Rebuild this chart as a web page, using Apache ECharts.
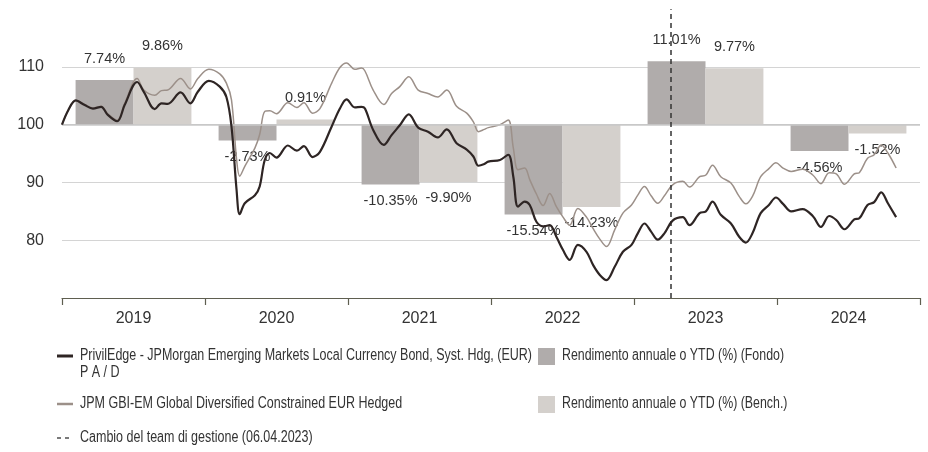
<!DOCTYPE html>
<html>
<head>
<meta charset="utf-8">
<script src="https://cdn.jsdelivr.net/npm/echarts@6/dist/echarts.min.js"></script>
<style>html,body{margin:0;padding:0;background:#fff;}#c{width:928px;height:452px;}</style>
</head>
<body>
<div id="c"></div>
<script>
const years = ['2019', '2020', '2021', '2022', '2023', '2024'];
const fundReturns = [7.74, -2.73, -10.35, -15.54, 11.01, -4.56];
const benchReturns = [9.86, 0.91, -9.90, -14.23, 9.77, -1.52];
const yTicks = [80, 90, 100, 110];

const dates = [
 '2019-01-01','2019-01-17','2019-02-05','2019-02-28','2019-03-21','2019-04-11','2019-04-28','2019-05-22','2019-06-10','2019-07-12',
 '2019-07-29','2019-08-26','2019-09-12','2019-09-28','2019-10-31','2019-11-25','2019-12-14','2020-01-11','2020-02-08','2020-02-25',
 '2020-03-09','2020-03-22','2020-03-30','2020-04-12','2020-05-08','2020-05-20','2020-06-02','2020-06-15','2020-07-02','2020-07-31',
 '2020-08-23','2020-09-10','2020-10-02','2020-10-21','2020-11-20','2020-12-11','2020-12-28','2021-01-18','2021-02-04','2021-02-13',
 '2021-03-06','2021-04-02','2021-04-22','2021-05-13','2021-06-05','2021-06-29','2021-07-24','2021-08-18','2021-09-10','2021-10-05',
 '2021-10-31','2021-11-17','2021-11-30','2021-12-15','2021-12-25','2022-01-24','2022-02-14','2022-02-27','2022-03-11','2022-03-28',
 '2022-04-10','2022-04-27','2022-05-14','2022-05-31','2022-06-17','2022-07-04','2022-07-21','2022-08-11','2022-09-02','2022-09-19',
 '2022-10-06','2022-10-23','2022-11-13','2022-12-04','2022-12-26','2023-01-11','2023-01-28','2023-02-14','2023-03-03','2023-03-20',
 '2023-04-10','2023-05-06','2023-05-23','2023-06-18','2023-07-04','2023-07-21','2023-08-11','2023-09-06','2023-09-27','2023-10-14',
 '2023-10-31','2023-11-21','2023-12-12','2023-12-30','2024-01-17','2024-02-07','2024-03-07','2024-04-02','2024-04-23','2024-05-14',
 '2024-06-01','2024-06-22','2024-07-17','2024-07-30','2024-08-20','2024-09-06','2024-09-24','2024-10-11','2024-11-01'
];
const fundValues = [
 100.0,102.5,104.2,103.4,102.8,103.1,101.7,100.6,103.4,107.4,
 105.7,102.7,103.7,103.6,105.6,103.7,105.7,107.6,106.6,104.8,
 99.7,88.7,84.5,86.4,87.8,89.3,93.9,95.1,94.3,96.4,
 95.5,96.3,94.4,95.3,99.7,102.8,104.4,103.0,103.1,102.8,
 99.1,96.5,98.2,99.9,101.8,99.5,98.8,97.8,99.2,96.8,
 95.7,94.5,92.9,93.2,93.6,93.9,94.8,91.0,85.8,86.7,
 86.1,83.2,82.4,82.6,80.6,78.3,76.6,79.2,78.0,75.7,
 74.0,73.1,75.4,78.0,79.2,81.2,82.9,81.5,80.1,81.2,
 83.4,84.0,82.6,84.7,85.0,86.7,84.4,82.9,80.6,79.6,
 81.2,84.7,86.1,87.4,86.3,85.0,85.4,84.2,82.3,84.2,
 83.5,81.9,83.6,83.8,86.1,86.6,88.3,86.4,84.0
];
const benchValues = [
 100.0,102.5,104.2,103.5,102.9,103.2,101.9,100.8,103.7,108.0,
 106.0,105.1,105.9,106.0,108.0,106.2,108.0,109.6,108.8,107.2,
 104.3,94.0,91.1,92.8,96.0,98.3,102.3,102.4,101.9,103.8,
 103.0,103.8,102.0,102.8,107.2,109.9,110.7,109.6,109.8,109.3,
 106.0,103.5,105.4,106.6,108.3,106.0,105.4,104.8,106.0,103.2,
 102.0,100.5,98.8,99.2,99.5,100.0,100.8,96.0,92.2,92.5,
 90.5,88.0,86.0,88.1,85.8,84.0,82.6,85.5,84.0,82.0,
 80.2,78.9,81.8,84.7,86.1,87.8,89.3,87.7,86.4,87.7,
 89.6,90.2,89.2,91.0,91.3,93.0,91.0,89.9,87.6,86.3,
 87.6,91.0,92.4,93.4,92.5,91.9,92.3,91.3,89.8,91.7,
 91.5,89.7,91.5,91.7,94.2,94.8,96.5,95.1,92.5
];
const teamChangeDate = '2023-04-06';

const fundName = 'PrivilEdge - JPMorgan Emerging Markets Local Currency Bond, Syst. Hdg, (EUR)';
const fundName2 = 'P A / D';
const benchName = 'JPM GBI-EM Global Diversified Constrained EUR Hedged';
const barFundName = 'Rendimento annuale o YTD (%) (Fondo)';
const barBenchName = 'Rendimento annuale o YTD (%) (Bench.)';
const dashName = 'Cambio del team di gestione (06.04.2023)';

const C_FUND_LINE = '#2e2524';
const C_BENCH_LINE = '#9c9089';
const C_FUND_BAR = '#b0acab';
const C_BENCH_BAR = '#d4d0cc';
const TXT = '#333333';
const NUMFONT = "'Liberation Sans', Arial, sans-serif";
const LEGFONT_SIZE = 16;
const LEGFONT = LEGFONT_SIZE + "px 'Liberation Sans', Arial, sans-serif";

// condensed look: horizontal squeeze so legend texts span their widths in the reference
const mctx = document.createElement('canvas').getContext('2d');
mctx.font = LEGFONT;
const legScale = 452 / mctx.measureText(fundName).width;
const legScaleR = 222 / mctx.measureText(barFundName).width;

function baseOf(arr) { return arr.map(r => 100 + Math.min(r, 0)); }
function barOf(arr) {
  return arr.map(r => ({
    value: Math.abs(r),
    label: r >= 0 ? { position: 'top', distance: 14 } : { position: 'bottom', distance: 9 }
  }));
}
function labelFmt(arr) { return p => arr[p.dataIndex].toFixed(2) + '%'; }

function legText(x, y, text, sc) {
  return { type: 'text', x: x, y: y, scaleX: sc, scaleY: 1,
    style: { x: 0, y: 0, text: text, fill: TXT, font: LEGFONT, lineHeight: 17, textVerticalAlign: 'top', verticalAlign: 'top' } };
}

const chart = echarts.init(document.getElementById('c'), null, { renderer: 'canvas' });
const barLabel = { show: true, color: TXT, fontSize: 14.5, fontFamily: NUMFONT };

const option = {
  animation: false,
  backgroundColor: '#fff',
  grid: { left: 62, right: 8, top: 9.2, bottom: 154, containLabel: false },
  xAxis: [
    {
      type: 'category', data: years, boundaryGap: true,
      axisLine: { lineStyle: { color: '#5f5f50', width: 1 } },
      axisTick: { show: true, length: 7, lineStyle: { color: '#5f5f50', width: 1.2 } },
      axisLabel: { color: TXT, fontSize: 16, fontFamily: NUMFONT, margin: 13 },
      splitLine: { show: false }
    },
    {
      type: 'time', min: '2019-01-01', max: '2025-01-01', show: false
    }
  ],
  yAxis: {
    type: 'value', min: 70, max: 120, interval: 10,
    axisLine: { show: false }, axisTick: { show: false },
    axisLabel: {
      color: TXT, fontSize: 16, fontFamily: NUMFONT, margin: 18, padding: [0, 0, 6, 0],
      formatter: v => (yTicks.indexOf(v) >= 0 ? String(v) : '')
    },
    splitLine: { show: true, lineStyle: { color: ['rgba(0,0,0,0)', '#d4d4d4', '#d4d4d4', '#c8c8c8', '#d4d4d4', 'rgba(0,0,0,0)'], width: 1 } }
  },
  series: [
    { name: 'fb', type: 'bar', stack: 'f', data: baseOf(fundReturns), itemStyle: { color: 'rgba(0,0,0,0)' }, barGap: '0%', barCategoryGap: '19%', silent: true },
    { name: barFundName, type: 'bar', stack: 'f', data: barOf(fundReturns), itemStyle: { color: C_FUND_BAR },
      label: Object.assign({}, barLabel, { formatter: labelFmt(fundReturns) }) },
    { name: 'bb', type: 'bar', stack: 'b', data: baseOf(benchReturns), itemStyle: { color: 'rgba(0,0,0,0)' }, silent: true },
    { name: barBenchName, type: 'bar', stack: 'b', data: barOf(benchReturns), itemStyle: { color: C_BENCH_BAR },
      label: Object.assign({}, barLabel, { formatter: labelFmt(benchReturns) }) },
    { name: 'zero', type: 'line', xAxisIndex: 1, data: [], z: 3,
      markLine: { silent: true, symbol: 'none', label: { show: false },
        lineStyle: { color: '#c8c8c8', width: 1.6, type: 'solid' }, data: [{ yAxis: 100 }] } },
    { name: benchName, type: 'line', xAxisIndex: 1, smooth: 0.35, showSymbol: false, z: 4,
      data: dates.map((d, i) => [d, benchValues[i]]),
      lineStyle: { color: C_BENCH_LINE, width: 1.5 } },
    { name: fundName, type: 'line', xAxisIndex: 1, smooth: 0.35, showSymbol: false, z: 5,
      data: dates.map((d, i) => [d, fundValues[i]]),
      lineStyle: { color: C_FUND_LINE, width: 2.2 },
      markLine: { silent: true, symbol: 'none', label: { show: false },
        lineStyle: { color: '#333', width: 1.5, type: [5, 4] },
        data: [{ xAxis: teamChangeDate }] } }
  ],
  graphic: [
    { type: 'line', shape: { x1: 57, y1: 356, x2: 73, y2: 356 }, style: { stroke: C_FUND_LINE, lineWidth: 3 } },
    legText(80, 347, fundName + '\n' + fundName2, legScale),
    { type: 'line', shape: { x1: 57, y1: 404, x2: 73, y2: 404 }, style: { stroke: C_BENCH_LINE, lineWidth: 2.5 } },
    legText(80, 395, benchName, legScale),
    { type: 'line', shape: { x1: 57, y1: 438, x2: 72, y2: 438 }, style: { stroke: '#333', lineWidth: 1.3, lineDash: [4, 4] } },
    legText(80, 429, dashName, legScale),
    { type: 'rect', shape: { x: 538, y: 348, width: 17, height: 17 }, style: { fill: C_FUND_BAR } },
    legText(562, 347, barFundName, legScaleR),
    { type: 'rect', shape: { x: 538, y: 396, width: 17, height: 17 }, style: { fill: C_BENCH_BAR } },
    legText(562, 395, barBenchName, legScaleR)
  ]
};
chart.setOption(option);
</script>
</body>
</html>
